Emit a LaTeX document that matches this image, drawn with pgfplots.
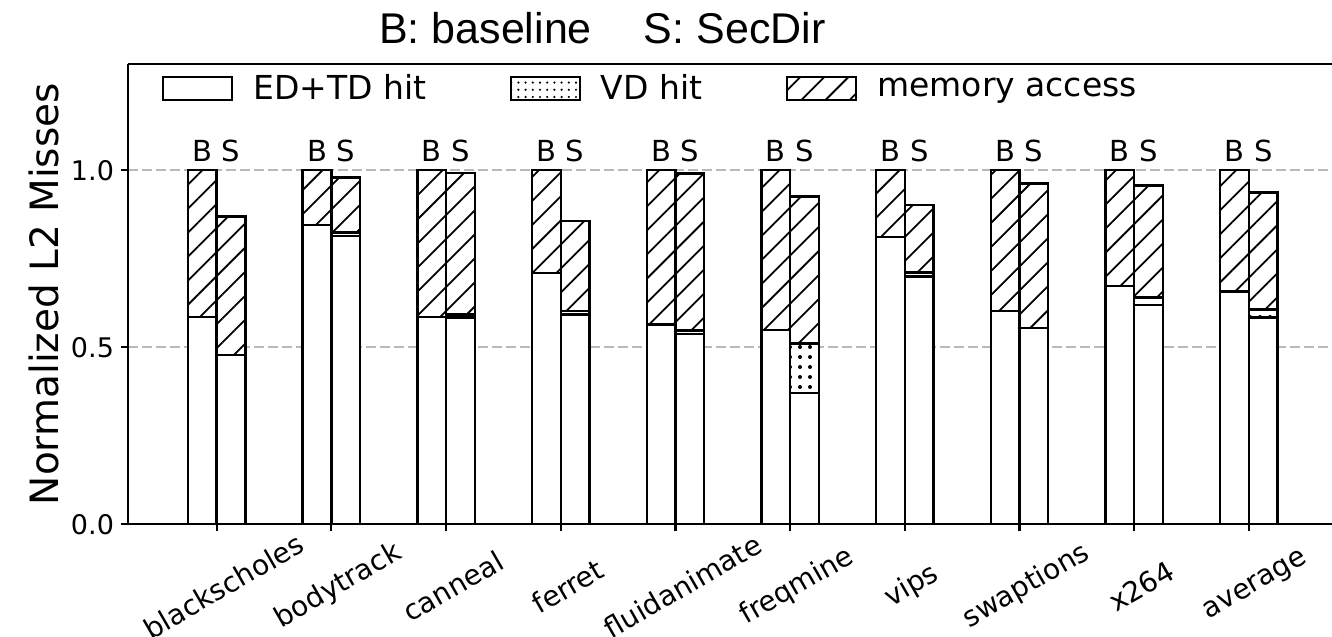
\documentclass[border=0pt]{standalone}
\usepackage{fontspec}
\setmainfont{DejaVu Sans}
\newfontfamily\titlefont{Liberation Sans}
\usepackage{graphicx}
\usepackage{pgfplots}
\pgfplotsset{compat=1.18}
\usepackage{pgfplotstable}
\usetikzlibrary{patterns.meta}

% segments: ED+TD hit, VD hit, memory access (B = baseline, S = SecDir)
\pgfplotstableread{
x bed   bvd bmem  sed   svd   smem
0 0.586 0   0.414 0.478 0.000 0.391
1 0.846 0   0.154 0.814 0.010 0.156
2 0.585 0   0.415 0.584 0.008 0.401
3 0.709 0   0.291 0.592 0.010 0.255
4 0.564 0   0.436 0.537 0.010 0.444
5 0.548 0   0.452 0.371 0.140 0.415
6 0.811 0   0.189 0.700 0.011 0.190
7 0.603 0   0.397 0.554 0.000 0.409
8 0.673 0   0.327 0.619 0.021 0.317
9 0.658 0   0.342 0.584 0.023 0.330
}\data

\tikzset{
  hatchbar/.style={fill=white, postaction={pattern={Lines[angle=45,distance=8.5pt,line width=0.9pt]}}},
  dotbar/.style={fill=white, postaction={pattern={Dots[distance=5pt,radius=1pt]}}},
  legdot/.style={fill=white, postaction={pattern={Dots[distance=3.6pt,radius=0.6pt]}}},
  lbl/.style={font=\fontsize{14.5}{16}\selectfont, anchor=south, inner sep=0pt, yshift=4pt},
}

\begin{document}
\begin{tikzpicture}
\begin{axis}[
  name=ax,
  scale only axis, width=602pt, height=230.15pt,
  xmin=-0.773, xmax=9.724, ymin=0, ymax=1.3,
  clip mode=individual,
  axis y line*=left,
  axis line style={line width=1.2pt, black},
  xtick={0,...,9},
  xticklabels={{\rotatebox{30}{blackscholes}},{\rotatebox{30}{bodytrack}},{\rotatebox{30}{canneal}},{\rotatebox{30}{ferret}},{\rotatebox{30}{fluidanimate}},{\rotatebox{30}{freqmine}},{\rotatebox{30}{vips}},{\rotatebox{30}{swaptions}},{\rotatebox{30}{x264}},{\rotatebox{30}{average}}},
  xticklabel style={font=\fontsize{14}{16}\selectfont, anchor=center, inner sep=0pt, yshift=-27.5pt, xshift=3.5pt},
  ytick={0,0.5,1},
  yticklabel style={font=\fontsize{13.5}{15}\selectfont, /pgf/number format/fixed, /pgf/number format/fixed zerofill, /pgf/number format/precision=1, /pgf/number format/assume math mode=true},
  tick align=outside, xtick pos=bottom, ytick pos=left,
  major tick length=3.5pt,
  every tick/.style={black, line width=1.1pt},
  ymajorgrids,
  major grid style={gray!55, line width=0.8pt, dash pattern=on 5pt off 2pt},
  ylabel={Normalized L2 Misses},
  ylabel style={at={(rel axis cs:-0.058,0.5)}, anchor=base, font=\fontsize{19.5}{22}\selectfont},
  legend columns=3,
  legend style={draw=none, fill=none, at={(rel axis cs:0,1)}, anchor=north west, xshift=17pt, yshift=-3pt, inner sep=0pt, font=\fontsize{16.5}{19}\selectfont, /tikz/every even column/.append style={column sep=40pt}, /tikz/every odd column/.append style={column sep=8pt}},
  legend image code/.code={\draw[#1, line width=0.9pt] (0pt,-5.75pt) rectangle (34.5pt,5.75pt);},
]
\addlegendimage{fill=white, draw=black}
\addlegendentry{ED+TD hit}
\addlegendimage{legdot, draw=black}
\addlegendentry{VD hit}
\addlegendimage{hatchbar, draw=black}
\addlegendentry{memory access}

% baseline
\addplot[forget plot, ybar, bar width=0.25, bar shift=-0.125, draw=black, line width=1.2pt, hatchbar] table[x=x, y expr=\thisrow{bed}+\thisrow{bvd}+\thisrow{bmem}] {\data};
\addplot[forget plot, ybar, bar width=0.25, bar shift=-0.125, draw=black, line width=1.2pt, dotbar] table[x=x, y expr=\thisrow{bed}+\thisrow{bvd}] {\data};
\addplot[forget plot, ybar, bar width=0.25, bar shift=-0.125, draw=black, line width=1.2pt, fill=white] table[x=x, y=bed] {\data};
% SecDir
\addplot[forget plot, ybar, bar width=0.25, bar shift=0.125, draw=black, line width=1.2pt, hatchbar] table[x=x, y expr=\thisrow{sed}+\thisrow{svd}+\thisrow{smem}] {\data};
\addplot[forget plot, ybar, bar width=0.25, bar shift=0.125, draw=black, line width=1.2pt, dotbar] table[x=x, y expr=\thisrow{sed}+\thisrow{svd}] {\data};
\addplot[forget plot, ybar, bar width=0.25, bar shift=0.125, draw=black, line width=1.2pt, fill=white] table[x=x, y=sed] {\data};

\pgfplotsinvokeforeach{0,...,9}{
  \node[lbl, xshift=-7.17pt] at (axis cs:#1,1) {B};
  \node[lbl, xshift=7.17pt] at (axis cs:#1,1) {S};
}
\node[anchor=base, yshift=10.5pt, font=\titlefont\fontsize{21.5}{24}\selectfont] at (rel axis cs:0.394,1) {B: baseline\hspace{26pt}S: SecDir};
\end{axis}
\pgfresetboundingbox
\path[use as bounding box] ([xshift=-64pt,yshift=-56.35pt]ax.south west) rectangle ([yshift=32pt]ax.north east);
\end{tikzpicture}
\end{document}
